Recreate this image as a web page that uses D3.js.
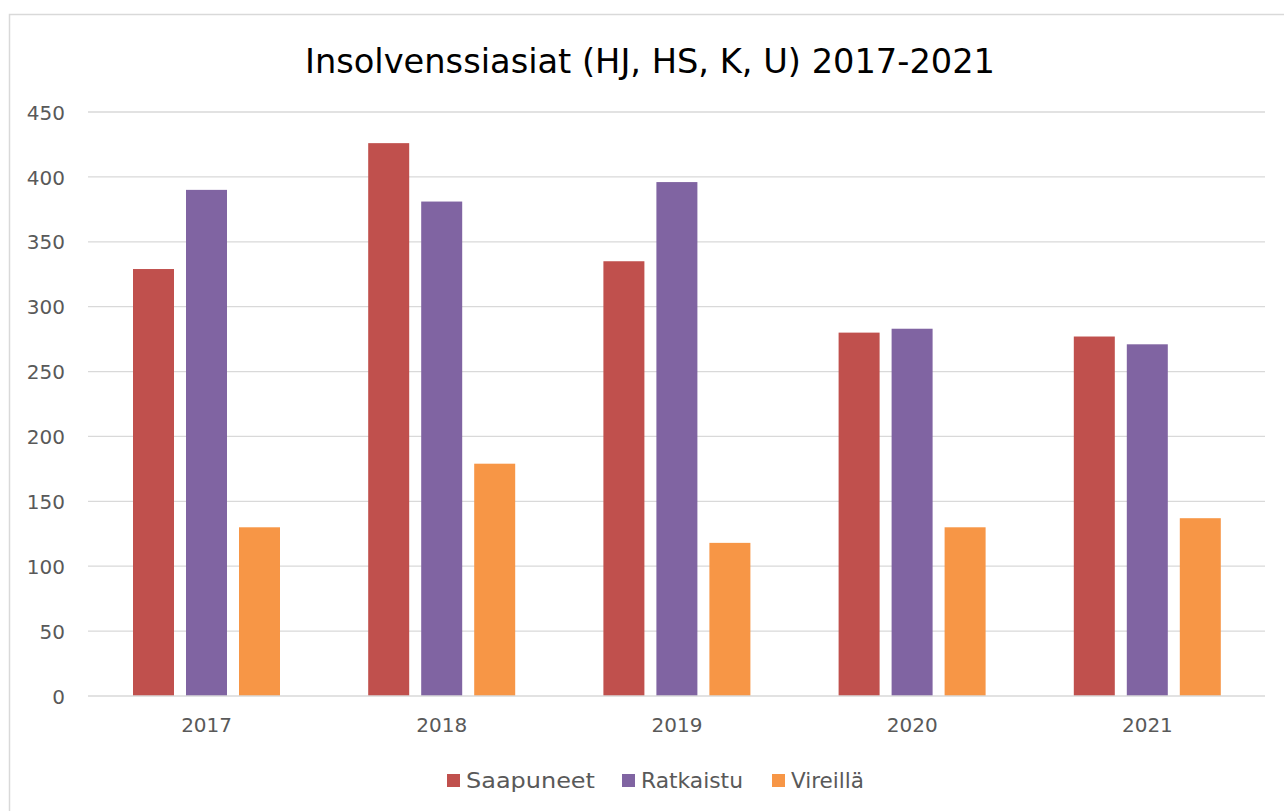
<!DOCTYPE html>
<html>
<head>
<meta charset="utf-8">
<script src="https://cdn.jsdelivr.net/npm/d3@7"></script>
<style>
  body { margin: 0; background: #fff; }
  svg text { font-family: "DejaVu Sans", sans-serif; }
</style>
</head>
<body>
<div class="mainContent"></div>
<script>
const w = 1284;
const h = 811;

const years = ["2017", "2018", "2019", "2020", "2021"];
const seriesNames = ["Saapuneet", "Ratkaistu", "Vireillä"];
const saapuneet = [329, 426, 335, 280, 277];
const ratkaistu = [390, 381, 396, 283, 271];
const vireilla = [130, 179, 118, 130, 137];
const yTicks = [0, 50, 100, 150, 200, 250, 300, 350, 400, 450];
const colors = ["#c0504d", "#8064a2", "#f79646"];

const seriesValues = [saapuneet, ratkaistu, vireilla];
const rows = years.map((year, i) => ({
    year: year,
    values: seriesNames.map((name, k) => ({ name: name, value: seriesValues[k][i] }))
}));

const plotLeft = 89, plotRight = 1265, plotTop = 112, plotBottom = 696;

const svg = d3.select('.mainContent')
    .append('svg')
    .attr('width', w)
    .attr('height', h);

// chart frame
svg.append('rect')
    .attr('x', 9.5).attr('y', 14.5)
    .attr('width', w).attr('height', h)
    .attr('fill', 'none')
    .attr('stroke', '#d9d9d9')
    .attr('stroke-width', 1.5);

const xScale = d3.scaleBand()
    .domain(years)
    .range([plotLeft, plotRight])
    .padding(0);

const xInner = d3.scaleBand()
    .domain(seriesNames)
    .range([44, 191])
    .paddingInner(12 / 53)
    .paddingOuter(0);

const yScale = d3.scaleLinear()
    .domain([0, 450])
    .range([plotBottom, plotTop]);

// gridlines
svg.append('g')
    .selectAll('line')
    .data(yTicks.slice(1))
    .enter()
    .append('line')
    .attr('x1', plotLeft - 1)
    .attr('x2', plotRight)
    .attr('y1', d => yScale(d))
    .attr('y2', d => yScale(d))
    .attr('stroke', '#d9d9d9')
    .attr('stroke-width', 1.3);

// bars
const groups = svg.append('g')
    .selectAll('g')
    .data(rows)
    .enter()
    .append('g')
    .attr('transform', d => `translate(${xScale(d.year)},0)`);

groups.selectAll('rect')
    .data(d => d.values)
    .enter()
    .append('rect')
    .attr('x', d => xInner(d.name))
    .attr('width', xInner.bandwidth())
    .attr('y', d => yScale(d.value))
    .attr('height', d => yScale(0) - yScale(d.value))
    .attr('fill', (d, i) => colors[i]);

// x axis line
svg.append('line')
    .attr('x1', plotLeft - 1).attr('x2', plotRight)
    .attr('y1', plotBottom).attr('y2', plotBottom)
    .attr('stroke', '#d9d9d9')
    .attr('stroke-width', 1.5);

// y axis
const yAxis = d3.axisLeft(yScale).tickValues(yTicks).tickSize(0).tickPadding(0);
const yG = svg.append('g')
    .attr('transform', `translate(65,0)`)
    .call(yAxis);
yG.select('.domain').remove();
yG.selectAll('text')
    .attr('fill', '#595959')
    .style('font-size', '20px')
    .attr('dy', '0.36em');

// x axis labels
const xAxis = d3.axisBottom(xScale).tickSize(0).tickPadding(0);
const xG = svg.append('g')
    .attr('transform', `translate(0,${plotBottom + 22})`)
    .call(xAxis);
xG.select('.domain').remove();
xG.selectAll('text')
    .attr('fill', '#595959')
    .style('font-size', '20px');

// title
svg.append('text')
    .attr('x', 650)
    .attr('y', 73)
    .attr('text-anchor', 'middle')
    .attr('fill', '#000')
    .style('font-size', '33px')
    .attr('textLength', 690)
    .attr('lengthAdjust', 'spacingAndGlyphs')
    .text('Insolvenssiasiat (HJ, HS, K, U) 2017-2021');

// legend
const legendX = [447, 622, 772];
const legendW = [129, 102, 73];
const legend = svg.append('g')
    .selectAll('g')
    .data(seriesNames)
    .enter()
    .append('g')
    .attr('transform', (d, i) => `translate(${legendX[i]},774)`);
legend.append('rect')
    .attr('width', 13).attr('height', 13)
    .attr('fill', (d, i) => colors[i]);
legend.append('text')
    .attr('x', 19)
    .attr('y', 14)
    .attr('fill', '#595959')
    .style('font-size', '22px')
    .attr('textLength', (d, i) => legendW[i])
    .attr('lengthAdjust', 'spacingAndGlyphs')
    .text(d => d);
</script>
</body>
</html>
